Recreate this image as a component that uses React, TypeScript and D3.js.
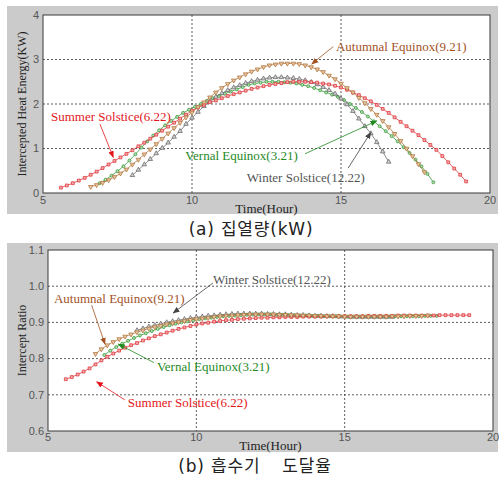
import React from 'react'
import * as d3 from 'd3'

// readings are taken every 0.2 hour, first hour given per series
const STEP = 0.2
const hourTicks = [5, 10, 15, 20]
const seriesNames = ['Summer Solstice(6.22)', 'Vernal Equinox(3.21)', 'Autumnal Equinox(9.21)', 'Winter Solstice(12.22)']

// (a) intercepted heat energy, kW
const heatTicks = [0, 1, 2, 3, 4]
const heatSummerStart = 5.6
const heatSummer = [
    0.12, 0.17, 0.22, 0.28, 0.34, 0.41, 0.48, 0.56, 0.64, 0.72, 0.8, 0.88, 0.96, 1.05, 1.13, 1.22, 1.31, 1.4,
    1.49, 1.58, 1.67, 1.76, 1.85, 1.92, 1.98, 2.04, 2.08, 2.13, 2.18, 2.22, 2.26, 2.3, 2.34, 2.37, 2.4, 2.43,
    2.45, 2.47, 2.49, 2.5, 2.5, 2.5, 2.49, 2.48, 2.46, 2.44, 2.41, 2.37, 2.32, 2.26, 2.2, 2.13, 2.06, 1.98,
    1.89, 1.8, 1.7, 1.6, 1.5, 1.4, 1.3, 1.19, 1.08, 0.97, 0.83, 0.69, 0.55, 0.41, 0.26,
]
const heatVernalStart = 6.9
const heatVernal = [
    0.22, 0.3, 0.39, 0.49, 0.6, 0.73, 0.87, 1.02, 1.16, 1.29, 1.41, 1.52, 1.62, 1.71, 1.8, 1.87, 1.94, 2.0,
    2.07, 2.13, 2.18, 2.23, 2.28, 2.33, 2.38, 2.43, 2.46, 2.48, 2.5, 2.5, 2.5, 2.49, 2.48, 2.46, 2.43, 2.4,
    2.36, 2.31, 2.26, 2.21, 2.16, 2.09, 2.0, 1.91, 1.82, 1.72, 1.61, 1.5, 1.39, 1.28, 1.16, 1.03, 0.9, 0.75,
    0.6, 0.43, 0.24,
]
const heatAutumnStart = 6.6
const heatAutumn = [
    0.14, 0.18, 0.23, 0.29, 0.36, 0.44, 0.53, 0.64, 0.75, 0.87, 0.98, 1.1, 1.22, 1.34, 1.46, 1.58, 1.7, 1.81,
    1.93, 2.04, 2.15, 2.26, 2.36, 2.45, 2.53, 2.6, 2.67, 2.73, 2.78, 2.83, 2.87, 2.89, 2.91, 2.91, 2.91, 2.9,
    2.87, 2.83, 2.78, 2.72, 2.64, 2.56, 2.46, 2.36, 2.26, 2.14, 2.02, 1.89, 1.76, 1.62, 1.48, 1.33, 1.17, 1.0,
    0.83, 0.65, 0.47,
]
const heatWinterStart = 8.0
const heatWinter = [
    0.4, 0.52, 0.64, 0.76, 0.89, 1.01, 1.13, 1.26, 1.39, 1.55, 1.69, 1.82, 1.95, 2.06, 2.16, 2.24, 2.31, 2.37,
    2.42, 2.47, 2.51, 2.54, 2.57, 2.59, 2.6, 2.6, 2.59, 2.58, 2.56, 2.53, 2.49, 2.44, 2.38, 2.31, 2.23, 2.12,
    1.99, 1.84, 1.67, 1.5, 1.34, 1.14, 0.93, 0.7,
]

// (b) intercept ratio
const ratioTicks = [0.6, 0.7, 0.8, 0.9, 1.0, 1.1]
const ratioSummerStart = 5.6
const ratioSummer = [
    0.743, 0.749, 0.756, 0.764, 0.773, 0.784, 0.795, 0.805, 0.814, 0.822, 0.83, 0.837, 0.843, 0.85, 0.856,
    0.862, 0.867, 0.872, 0.877, 0.882, 0.886, 0.89, 0.894, 0.897, 0.899, 0.902, 0.904, 0.906, 0.907, 0.909,
    0.91, 0.911, 0.912, 0.913, 0.913, 0.914, 0.914, 0.915, 0.915, 0.915, 0.916, 0.916, 0.916, 0.916, 0.917,
    0.917, 0.917, 0.917, 0.917, 0.917, 0.917, 0.918, 0.918, 0.918, 0.918, 0.918, 0.919, 0.919, 0.919, 0.919,
    0.919, 0.919, 0.919, 0.92, 0.92, 0.92, 0.92, 0.92, 0.92,
]
const ratioVernalStart = 6.9
const ratioVernal = [
    0.81, 0.822, 0.832, 0.841, 0.849, 0.857, 0.864, 0.87, 0.876, 0.882, 0.887, 0.892, 0.896, 0.9, 0.903,
    0.906, 0.909, 0.911, 0.913, 0.915, 0.917, 0.918, 0.919, 0.92, 0.921, 0.922, 0.922, 0.922, 0.922, 0.921,
    0.921, 0.92, 0.92, 0.919, 0.919, 0.918, 0.918, 0.917, 0.917, 0.917, 0.916, 0.916, 0.916, 0.916, 0.916,
    0.916, 0.916, 0.916, 0.916, 0.917, 0.917, 0.917, 0.917, 0.917, 0.918, 0.918, 0.918,
]
const ratioAutumnStart = 6.6
const ratioAutumn = [
    0.813, 0.826, 0.837, 0.846, 0.854, 0.861, 0.867, 0.873, 0.878, 0.883, 0.887, 0.891, 0.895, 0.898, 0.901,
    0.904, 0.907, 0.909, 0.911, 0.913, 0.915, 0.917, 0.918, 0.919, 0.92, 0.921, 0.922, 0.922, 0.922, 0.922,
    0.922, 0.921, 0.921, 0.92, 0.92, 0.919, 0.919, 0.918, 0.918, 0.917, 0.917, 0.917, 0.916, 0.916, 0.916,
    0.916, 0.916, 0.916, 0.916, 0.916, 0.917, 0.917, 0.917, 0.918, 0.918, 0.918, 0.919,
]
const ratioWinterStart = 8.0
const ratioWinter = [
    0.878, 0.883, 0.888, 0.892, 0.896, 0.9, 0.903, 0.906, 0.909, 0.912, 0.914, 0.916, 0.918, 0.919, 0.921,
    0.922, 0.923, 0.924, 0.924, 0.924, 0.924, 0.924, 0.923, 0.923, 0.922, 0.922, 0.921, 0.92, 0.92, 0.919,
    0.918, 0.918, 0.917, 0.917, 0.916, 0.916, 0.915, 0.915, 0.915, 0.915, 0.915, 0.915, 0.915, 0.915,
]

type Pt = [number, number]
const toPoints = (start: number, vals: number[]): Pt[] =>
    vals.map((v, i) => [+(start + i * STEP).toFixed(2), v] as Pt)

// summer, vernal, autumn, winter
const styles = [
    { key: 'su', line: '#e0393d', fill: '#f3b0b0', text: '#e3161b', arrow: '#e3161b', symbol: d3.symbolSquare, size: 8, rot: 0 },
    { key: 've', line: '#3a9a3a', fill: '#b5dcb5', text: '#1f8a1f', arrow: '#1f8a1f', symbol: d3.symbolCircle, size: 7, rot: 0 },
    { key: 'au', line: '#b4773f', fill: '#e6c8a8', text: '#a3521f', arrow: '#a3521f', symbol: d3.symbolTriangle, size: 9, rot: 180 },
    { key: 'wi', line: '#6e6e6e', fill: '#cfcfcf', text: '#555555', arrow: '#444444', symbol: d3.symbolTriangle, size: 9, rot: 0 },
]
const drawOrder = [1, 3, 0, 2]

const SERIF = "'Liberation Serif', 'Times New Roman', serif"
const SANS = "'Liberation Sans', Arial, sans-serif"
const CAPTION = "'DejaVu Sans', 'Noto Sans CJK KR', sans-serif"

const Panel = ({ box, plot, yDomain, yTicks, yFmt, yLabel, series, notes, xLabelY, xTickY }) => {
    const x = d3.scaleLinear().domain([5, 20]).range([plot.l, plot.r])
    const y = d3.scaleLinear().domain(yDomain).range([plot.b, plot.t])
    const line = d3.line<Pt>().x(d => x(d[0])).y(d => y(d[1]))
    const w = plot.r - plot.l
    const h = plot.b - plot.t
    return (
        <g>
            <rect x={box.x} y={box.y} width={box.w} height={box.h} fill="#cbcbcb" />
            <rect x={plot.l} y={plot.t} width={w} height={h} fill="#fff" />
            {hourTicks.slice(1, -1).map(t => (
                <line key={'gx' + t} x1={x(t)} x2={x(t)} y1={plot.t} y2={plot.b}
                    stroke="#333" strokeWidth={0.8} strokeDasharray="2,2" />
            ))}
            {yTicks.slice(1, -1).map(t => (
                <line key={'gy' + t} x1={plot.l} x2={plot.r} y1={y(t)} y2={y(t)}
                    stroke="#333" strokeWidth={0.8} strokeDasharray="2,2" />
            ))}
            {drawOrder.map(i => {
                const s = styles[i]
                const pts = series[i]
                const sym = d3.symbol().type(s.symbol).size(s.size)()
                return (
                    <g key={s.key}>
                        <path d={line(pts)} fill="none" stroke={s.line} strokeWidth={0.8} />
                        {pts.map((p, j) => (
                            <path key={j} d={sym} fill={s.fill} stroke={s.line} strokeWidth={0.8}
                                transform={`translate(${x(p[0])},${y(p[1])}) rotate(${s.rot})`} />
                        ))}
                    </g>
                )
            })}
            <rect x={plot.l} y={plot.t} width={w} height={h} fill="none" stroke="#3a3a3a" strokeWidth={1} />
            {yTicks.map(t => (
                <text key={'ty' + t} x={plot.l - 4} y={y(t)} dy="0.35em" textAnchor="end"
                    fontFamily={SANS} fontSize={11} fill="#555">{yFmt(t)}</text>
            ))}
            {hourTicks.map(t => (
                <text key={'tx' + t} x={x(t)} y={xTickY} dy="0.35em" textAnchor="middle"
                    fontFamily={SANS} fontSize={11} fill="#555">{t}</text>
            ))}
            <text x={(plot.l + plot.r) / 2} y={xLabelY} dy="0.35em" textAnchor="middle"
                fontFamily={SERIF} fontSize={13} fill="#222">Time(Hour)</text>
            <text transform={`translate(${box.x + 15},${(plot.t + plot.b) / 2}) rotate(-90)`} dy="0.35em"
                textAnchor="middle" fontFamily={SERIF} fontSize={12} fill="#222">{yLabel}</text>
            {notes.map((n, i) => {
                const s = styles[i]
                return (
                    <g key={'n' + i}>
                        <line x1={x(n.from[0])} y1={y(n.from[1])} x2={x(n.to[0])} y2={y(n.to[1])}
                            stroke={s.arrow} strokeWidth={0.8} markerEnd={`url(#arr-${s.key})`} />
                        <text x={x(n.at[0])} y={y(n.at[1])} dy="0.35em" fontFamily={SERIF} fontSize={13}
                            fill={s.text}>{seriesNames[i]}</text>
                    </g>
                )
            })}
        </g>
    )
}

const heatSeries = [
    toPoints(heatSummerStart, heatSummer),
    toPoints(heatVernalStart, heatVernal),
    toPoints(heatAutumnStart, heatAutumn),
    toPoints(heatWinterStart, heatWinter),
]
const ratioSeries = [
    toPoints(ratioSummerStart, ratioSummer),
    toPoints(ratioVernalStart, ratioVernal),
    toPoints(ratioAutumnStart, ratioAutumn),
    toPoints(ratioWinterStart, ratioWinter),
]

// label anchors in data units: text at, arrow from -> to
const heatNotes = [
    { at: [5.27, 1.71], from: [6.91, 1.55], to: [7.36, 0.8] },
    { at: [9.77, 0.84], from: [13.79, 0.88], to: [16.2, 1.62] },
    { at: [14.83, 3.3], from: [14.74, 3.29], to: [14.02, 2.9] },
    { at: [11.84, 0.34], from: [15.24, 0.56], to: [16.0, 1.36] },
]
const ratioNotes = [
    { at: [7.69, 0.679], from: [7.59, 0.686], to: [6.64, 0.736] },
    { at: [8.67, 0.778], from: [8.57, 0.789], to: [7.37, 0.84] },
    { at: [5.2, 0.967], from: [6.47, 0.948], to: [6.92, 0.84] },
    { at: [10.56, 1.02], from: [10.56, 1.009], to: [9.22, 0.926] },
]

const App = () => (
    <svg width={499} height={481} style={{ position: 'absolute', left: 0, top: 0, background: '#fff' }}>
        <defs>
            {styles.map(s => (
                <marker key={s.key} id={`arr-${s.key}`} viewBox="0 0 10 10" refX={9} refY={5}
                    markerWidth={7} markerHeight={7} markerUnits="userSpaceOnUse" orient="auto">
                    <path d="M0,1 L10,5 L0,9 z" fill={s.arrow} />
                </marker>
            ))}
        </defs>
        <Panel
            box={{ x: 7, y: 6, w: 491, h: 208 }}
            plot={{ l: 43, r: 490, t: 15, b: 193 }}
            yDomain={[0, 4]} yTicks={heatTicks} yFmt={d3.format('d')}
            yLabel="Intercepted Heat Energy(KW)"
            series={heatSeries} notes={heatNotes}
            xTickY={200} xLabelY={208}
        />
        <text x={251} y={229} dy="0.35em" textAnchor="middle" fontFamily={CAPTION}
            fontSize={17} fill="#222" letterSpacing={0.8}>(a) 집열량(kW)</text>
        <Panel
            box={{ x: 7, y: 243, w: 491, h: 209 }}
            plot={{ l: 48, r: 493, t: 250, b: 431 }}
            yDomain={[0.6, 1.1]} yTicks={ratioTicks} yFmt={d3.format('.1f')}
            yLabel="Intercept Ratio"
            series={ratioSeries} notes={ratioNotes}
            xTickY={437} xLabelY={445}
        />
        <text x={255} y={466} dy="0.35em" textAnchor="middle" fontFamily={CAPTION}
            fontSize={17} fill="#222" letterSpacing={0.8}>
            (b) 흡수기<tspan dx={22}>도달율</tspan>
        </text>
    </svg>
)

export default App
